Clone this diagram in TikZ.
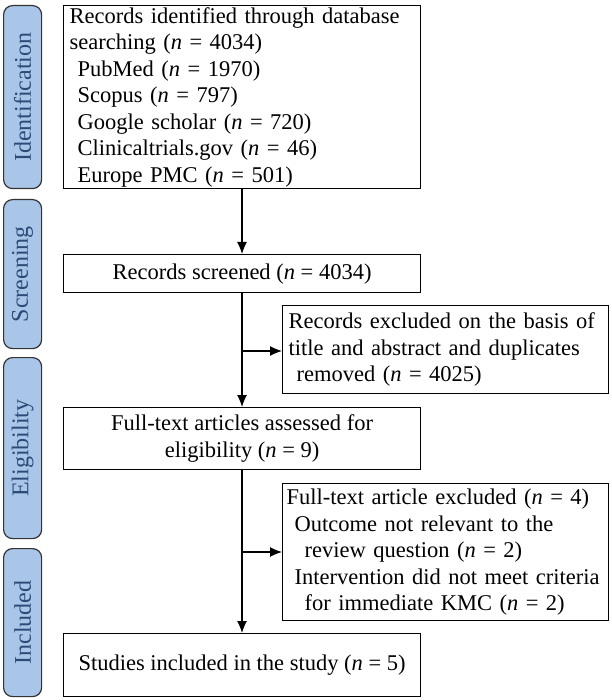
\documentclass[tikz,border=0pt]{standalone}
\usepackage{fontspec}
\setmainfont{Liberation Serif}
\definecolor{tabfill}{HTML}{A9C6E8}
\definecolor{tabtext}{HTML}{2C4A78}
\tikzset{
  box/.style={draw=black,line width=1.2pt,anchor=north west,inner xsep=6pt,inner ysep=0pt,font=\fontsize{22.5}{26.5}\selectfont},
  tab/.style={draw=black!80,fill=tabfill,line width=1.2pt,rounded corners=9pt,anchor=north west,inner sep=0pt,
    minimum width=38pt,font=\fontsize{24}{26}\selectfont\color{tabtext}},
  arr/.style={-{Latex[length=12pt,width=10pt]},line width=1.2pt}
}
\usetikzlibrary{arrows.meta}
\begin{document}
\begin{tikzpicture}[x=1pt,y=-1pt]
\useasboundingbox (0,0) rectangle (611,700);
% stage tabs
\node[tab,minimum height=183pt] (ident) at (3,5) {\rotatebox{90}{Identification}};
\node[tab,minimum height=149pt] (scr) at (3,199) {\rotatebox{90}{Screening}};
\node[tab,minimum height=181pt] (elig) at (3,357) {\rotatebox{90}{Eligibility}};
\node[tab,minimum height=148pt] (incl) at (3,548) {\rotatebox{90}{Included}};
% main boxes
\node[box,minimum width=357pt,minimum height=183pt,text width=345pt,align=left] (rec) at (63,5)
  {Records identified through database\\searching (\textit{n} = 4034)\\
   \hspace{8pt}PubMed (\textit{n} = 1970)\\\hspace{8pt}Scopus (\textit{n} = 797)\\
   \hspace{8pt}Google scholar (\textit{n} = 720)\\\hspace{8pt}Clinicaltrials.gov (\textit{n} = 46)\\
   \hspace{8pt}Europe PMC (\textit{n} = 501)};
\node[box,minimum width=357pt,minimum height=38pt] (screen) at (63,254) {Records screened (\textit{n} = 4034)};
\node[box,minimum width=326pt,minimum height=88pt,text width=314pt,align=left] (excl) at (282,305)
  {Records excluded on the basis of\\title and abstract and duplicates\\\hspace{8pt}removed (\textit{n} = 4025)};
\node[box,minimum width=357pt,minimum height=62pt,align=center] (full) at (63,407)
  {Full-text articles assessed for\\eligibility (\textit{n} = 9)};
\node[box,minimum width=326pt,minimum height=137pt,text width=318pt,inner xsep=4pt,align=left] (fexcl) at (282,483)
  {Full-text article excluded (\textit{n} = 4)\\
   \hspace{8pt}Outcome not relevant to the\\\hspace{18pt}review question (\textit{n} = 2)\\
   \hspace{8pt}Intervention did not meet criteria\\\hspace{18pt}for immediate KMC (\textit{n} = 2)};
\node[box,minimum width=357pt,minimum height=63pt] (incd) at (63,633) {Studies included in the study (\textit{n} = 5)};
% connectors
\coordinate (j1) at (242,351);
\coordinate (j2) at (242,552);
\draw[arr] (rec.south -| j1) -- (screen.north -| j1);
\draw[arr] (screen.south -| j1) -- (full.north -| j1);
\draw[arr] (j1) -- (excl.west |- j1);
\draw[arr] (full.south -| j2) -- (incd.north -| j2);
\draw[arr] (j2) -- (fexcl.west |- j2);
\end{tikzpicture}
\end{document}
